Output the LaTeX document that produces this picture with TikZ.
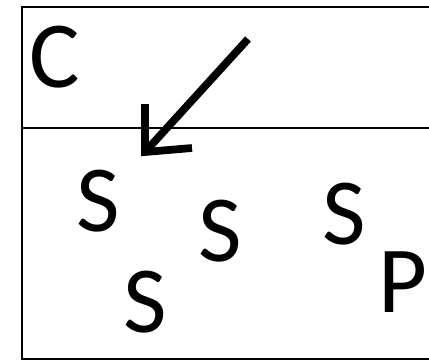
\documentclass[tikz,border=0pt]{standalone}
\usepackage{fontspec}
\setmainfont{Carlito}
\usetikzlibrary{positioning}

\begin{document}
\begin{tikzpicture}[x=0.75pt, y=-0.75pt, letter/.style={anchor=base, inner sep=0pt, font=\fontsize{71}{71}\selectfont}]
	\useasboundingbox (0,0) rectangle (429,361);
	% frame and divider
	\coordinate (tl) at (22,7);
	\coordinate (tr) at (440,7);
	\coordinate (bl) at (22,359);
	\coordinate (br) at (440,359);
	\coordinate (ml) at (22,128);
	\coordinate (mr) at (440,128);
	\draw[line width=1.9pt] (tr) -- (tl) -- (bl) -- (br);
	\draw[line width=1.2pt] (ml) -- (mr);
	% labels
	\node[letter] (c) at (55,87) {C};
	\node[letter] (s1) at (98,231) {S};
	\node[letter] (s2) at (220,261) {S};
	\node[letter] (s3) at (344,244) {S};
	\node[letter] (s4) at (145,332) {S};
	\node[letter] (p) at (403,312) {P};
	% arrow
	\coordinate (tail) at (248,39);
	\coordinate (tip) at (145,152);
	\coordinate (armup) at (145,104);
	\coordinate (armright) at (192,148);
	\draw[line width=5.8pt] (tail) -- (tip);
	\draw[line width=5.8pt, line join=miter] (armup) -- (tip) -- (armright);
\end{tikzpicture}
\end{document}
